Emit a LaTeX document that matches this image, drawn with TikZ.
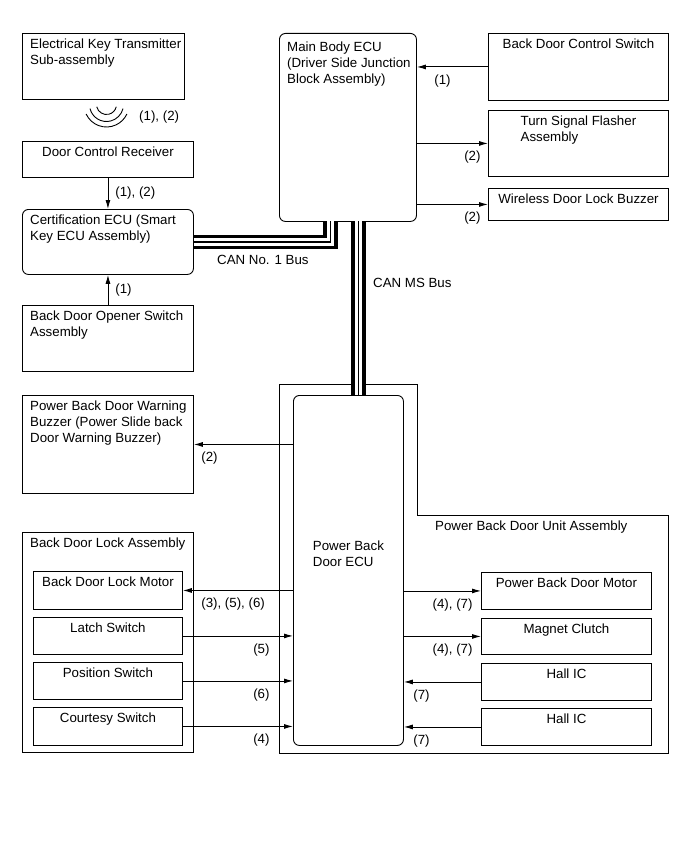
\documentclass[tikz,border=0pt]{standalone}
\usepackage{fontspec}
\setmainfont{Liberation Sans}
\usetikzlibrary{arrows.meta}

\begin{document}
\begin{tikzpicture}[x=1pt, y=-1pt,
  font=\fontsize{13.3}{15.7}\selectfont,
  sz/.style 2 args={minimum width=#1pt, minimum height=#2pt},
  box/.style={draw, line width=0.9pt, inner sep=0pt, anchor=north west},
  rbox/.style={box, rounded corners=6pt},
  txt/.style={align=left, inner xsep=8pt, inner ysep=6pt},
  tl/.style={label={[txt, anchor=north west]north west:{#1}}},
  tc/.style={label={[txt, anchor=north]north:{#1}}},
  ar/.style={line width=0.9pt, -{Latex[length=9pt, width=5pt]}},
  lbl/.style={inner sep=0pt, yshift=-7pt},
  bus/.style={draw=black, line width=14.5pt,
              postaction={draw=white, line width=7.5pt},
              postaction={draw=black, line width=1.2pt}}
]
\path[use as bounding box, fill=white] (0,0) rectangle (690,853);

% left column
\node[box, sz={162}{66}, tl={Electrical Key Transmitter\\Sub-assembly}] (ekt) at (22,33) {};
\node[box, sz={171}{36}, tc={Door Control Receiver}] (dcr) at (22,141) {};
\node[rbox, sz={171}{65}, tl={Certification ECU (Smart\\Key ECU Assembly)}] (cert) at (22,209) {};
\node[box, sz={171}{66}, tl={Back Door Opener Switch\\Assembly}] (bdos) at (22,305) {};

% wireless link
\coordinate (wl) at (106.5,104.5);
\foreach \r/\a in {10/77, 17/76, 22.5/65}
  \draw[line width=0.9pt] (wl) ++(90+\a:\r) arc[start angle=90+\a, end angle=90-\a, radius=\r];
\node[anchor=west, inner sep=0pt] (wllbl) at (139,117) {(1), (2)};

\draw[ar] (dcr) -- node[midway, right=7pt, inner sep=0pt] {(1), (2)} (cert);
\draw[ar] (bdos) -- node[midway, right=7pt, inner sep=0pt] {(1)} (cert);

% main body ECU and its switches
\node[rbox, sz={137}{188},
  label={[txt, anchor=north west, yshift=-3pt]north west:{Main Body ECU\\(Driver Side Junction\\Block Assembly)}}]
  (mbecu) at (279,33) {};
\node[box, sz={180}{67}, tc={Back Door Control Switch}] (bdcs) at (488,33) {};
\node[box, sz={180}{66}, tc={Turn Signal Flasher\\Assembly}] (tsf) at (488,110) {};
\node[box, sz={180}{32}, tc={Wireless Door Lock Buzzer}] (wdlb) at (488,188) {};

\draw[ar] (bdcs) -- node[lbl, anchor=north west, xshift=17pt, at end] {(1)} (bdcs -| mbecu.east);
\draw[ar] (mbecu.east |- tsf) -- node[lbl, anchor=north east, xshift=-7pt, at end] {(2)} (tsf);
\draw[ar] (mbecu.east |- wdlb) -- node[lbl, anchor=north east, xshift=-7pt, at end] {(2)} (wdlb);

% power back door unit
\draw[line width=0.9pt] (279,384) -- (417,384) -- (417,515) -- (668,515)
  -- (668,753) -- (279,753) -- cycle;
\node[anchor=west, inner sep=0pt] (pbdua) at (435,527) {Power Back Door Unit Assembly};
\node[rbox, sz={110}{350},
  label={[align=left, anchor=north, inner sep=0pt, yshift=-146pt]north:{Power Back\\Door ECU}}]
  (pbdecu) at (293,395) {};
\node[box, sz={170}{37}, tc={Power Back Door Motor}] (pbdm) at (481,572) {};
\node[box, sz={170}{36}, tc={Magnet Clutch}] (mc) at (481,618) {};
\node[box, sz={170}{37}, tc={Hall IC}] (hall1) at (481,663) {};
\node[box, sz={170}{37}, tc={Hall IC}] (hall2) at (481,708) {};

\draw[ar] (pbdecu.east |- pbdm) -- node[lbl, anchor=north east, xshift=-8pt, at end] {(4), (7)} (pbdm);
\draw[ar] (pbdecu.east |- mc) -- node[lbl, anchor=north east, xshift=-8pt, at end] {(4), (7)} (mc);
\draw[ar] (hall1) -- node[lbl, anchor=north west, xshift=9pt, at end] {(7)} (hall1 -| pbdecu.east);
\draw[ar] (hall2) -- node[lbl, anchor=north west, xshift=9pt, at end] {(7)} (hall2 -| pbdecu.east);

% warning buzzer
\node[box, sz={171}{98}, tl={Power Back Door Warning\\Buzzer (Power Slide back\\Door Warning Buzzer)}] (pbdwb) at (22,395) {};
\draw[ar] (pbdecu.west |- pbdwb) -- node[lbl, anchor=north west, xshift=7pt, at end] {(2)} (pbdwb);

% back door lock
\node[box, sz={171}{220}, tl={Back Door Lock Assembly}] (bdla) at (22,532) {};
\node[box, sz={149}{38}, tc={Back Door Lock Motor}] (bdlm) at (33,571) {};
\node[box, sz={149}{37}, tc={Latch Switch}] (latch) at (33,617) {};
\node[box, sz={149}{37}, tc={Position Switch}] (possw) at (33,662) {};
\node[box, sz={149}{38}, tc={Courtesy Switch}] (court) at (33,707) {};

\draw[ar] (pbdecu.west |- bdlm) -- node[lbl, anchor=north west, xshift=18pt, at end] {(3), (5), (6)} (bdlm);
\draw[ar] (latch) -- node[lbl, anchor=north east, xshift=-23pt, at end] {(5)} (latch -| pbdecu.west);
\draw[ar] (possw) -- node[lbl, anchor=north east, xshift=-23pt, at end] {(6)} (possw -| pbdecu.west);
\draw[ar] (court) -- node[lbl, anchor=north east, xshift=-23pt, at end] {(4)} (court -| pbdecu.west);

% CAN buses
\coordinate (can1) at (330.5,221);
\coordinate (canms) at (358.5,221);
\draw[bus] (cert.east) -| (can1);
\draw[bus] (canms) -- (canms |- pbdecu.north);
\node[anchor=west, inner sep=0pt] (can1lbl) at (217,260) {CAN No. 1 Bus};
\node[anchor=west, inner sep=0pt] (canmslbl) at (373,283) {CAN MS Bus};
\end{tikzpicture}
\end{document}
